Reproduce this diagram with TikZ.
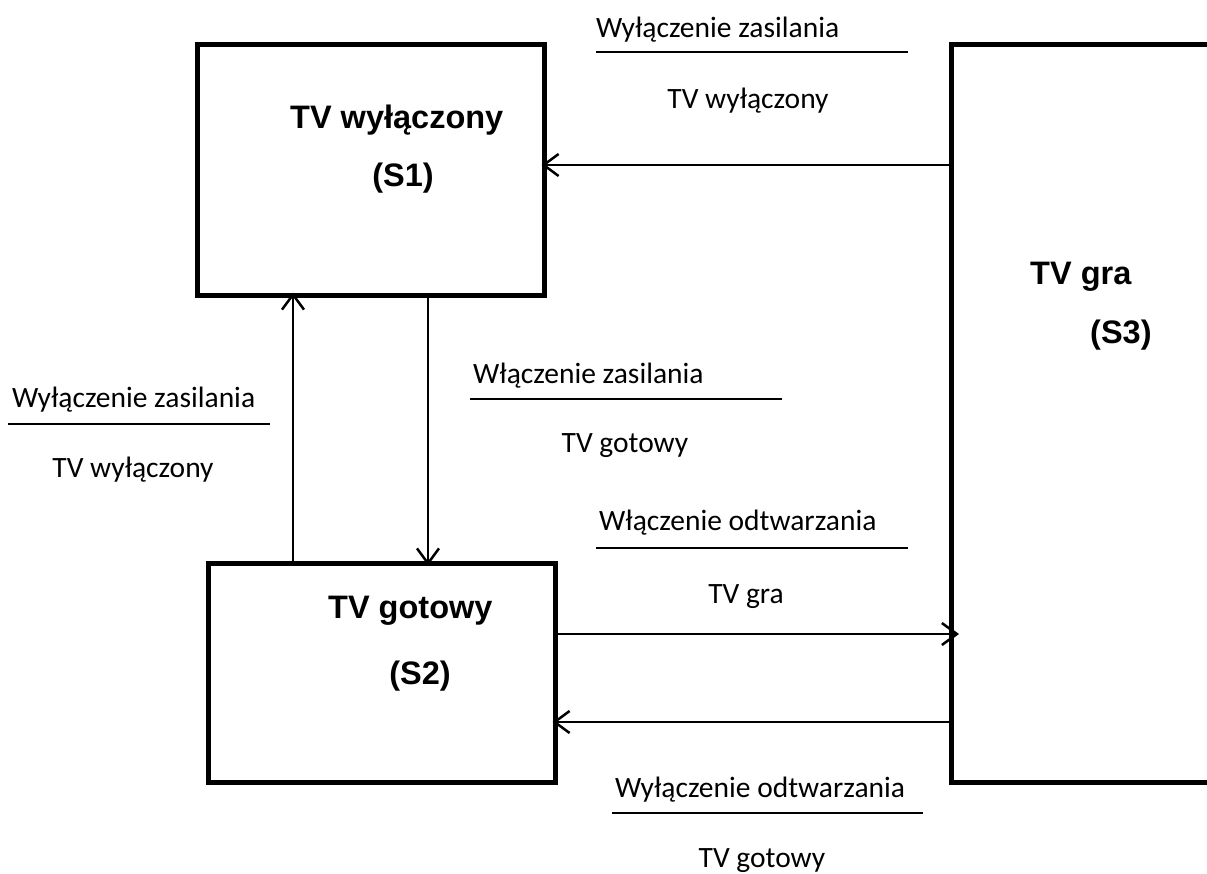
\documentclass[tikz,border=0pt]{standalone}
\usepackage{fontspec}
\setmainfont{Carlito}
\newfontfamily\boxfont{Liberation Sans}
\usetikzlibrary{arrows.meta}
\tikzset{
  box/.style={draw, line width=5pt, outer sep=0pt, inner sep=0pt},
  arr/.style={line width=2.5pt, -{Straight Barb[length=15pt,width=22pt,line width=2.5pt]}},
  lbl/.style={font=\fontsize{29.5}{31}\selectfont, inner sep=0pt},
  blbl/.style={font=\boxfont\bfseries\fontsize{32.5}{34}\selectfont, inner sep=0pt},
  rule/.style={line width=2.5pt}
}
\begin{document}
\begin{tikzpicture}[x=1pt,y=-1pt]
\useasboundingbox (0,0) rectangle (1207,873);
% boxes
\node[box, minimum width=347pt, minimum height=251pt] (S1) at (370.5,169.5) {};
\node[box, minimum width=347pt, minimum height=219pt] (S2) at (381.5,672.5) {};
\node[inner sep=0pt, outer sep=0pt, minimum width=264pt, minimum height=737.5pt] (S3) at (1083,413.25) {};
\draw[line width=5pt] (S3.north east) -- (S3.north west) -- (S3.south west) -- (S3.south east);
% box labels
\node[blbl, anchor=base west] (t1) at (290,128) {TV wyłączony};
\node[blbl, anchor=base] (t1b) at (403,186) {(S1)};
\node[blbl, anchor=base west] (t2) at (328,618) {TV gotowy};
\node[blbl, anchor=base] (t2b) at (420,684) {(S2)};
\node[blbl, anchor=base west] (t3) at (1030,284) {TV gra};
\node[blbl, anchor=base west] (t3b) at (1090,343) {(S3)};
% connectors
\draw[arr, shorten >=-2.5pt] (S3.west |- 0,165) -- (S1.east |- 0,165);
\draw[arr, shorten >=-8pt] (S2.east |- 0,634) -- (S3.west |- 0,634);
\draw[arr, shorten >=-2.5pt] (S3.west |- 0,722) -- (S2.east |- 0,722);
\draw[arr, shorten >=-2.5pt] (S2.north -| 293,0) -- (S1.south -| 293,0);
\draw[arr, shorten >=-2.5pt] (S1.south -| 428,0) -- (S2.north -| 428,0);
% transition labels
\node[lbl, anchor=base west] (l1a) at (596,37) {Wyłączenie zasilania};
\draw[rule] (596,52) -- (908,52);
\node[lbl, anchor=base] (l1b) at (748,108) {TV wyłączony};

\node[lbl, anchor=base west] (l2a) at (12,407) {Wyłączenie zasilania};
\draw[rule] (8,424) -- (270,424);
\node[lbl, anchor=base] (l2b) at (133,477) {TV wyłączony};

\node[lbl, anchor=base west] (l3a) at (473,383) {Włączenie zasilania};
\draw[rule] (470,399) -- (782,399);
\node[lbl, anchor=base] (l3b) at (625,452) {TV gotowy};

\node[lbl, anchor=base west] (l4a) at (599,530) {Włączenie odtwarzania};
\draw[rule] (596,548) -- (908,548);
\node[lbl, anchor=base] (l4b) at (746,603) {TV gra};

\node[lbl, anchor=base west] (l5a) at (615,797) {Wyłączenie odtwarzania};
\draw[rule] (612,813) -- (923,813);
\node[lbl, anchor=base] (l5b) at (762,867) {TV gotowy};
\end{tikzpicture}
\end{document}
